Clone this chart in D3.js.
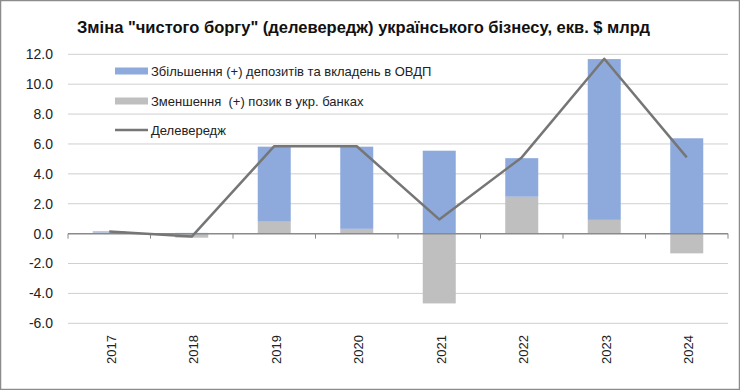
<!DOCTYPE html>
<html>
<head>
<meta charset="utf-8">
<script src="https://cdn.jsdelivr.net/npm/d3@7"></script>
<style>
  body { margin: 0; background: #fff; }
  svg { display: block; font-family: "Liberation Sans", Arial, sans-serif; }
</style>
</head>
<body>
<div id="chart"></div>
<script>
var years = ["2017", "2018", "2019", "2020", "2021", "2022", "2023", "2024"];
var deposits = [0.07, 0.05, 5.02, 5.5, 5.55, 2.58, 10.76, 6.38];
var loans = [0.08, -0.27, 0.8, 0.32, -4.67, 2.47, 0.92, -1.32];
var delev = [0.15, -0.2, 5.85, 5.85, 0.95, 5.1, 11.7, 5.1];
var yTicks = [12, 10, 8, 6, 4, 2, 0, -2, -4, -6];
var names = ["Збільшення (+) депозитів та вкладень в ОВДП", "Зменшення  (+) позик в укр. банках", "Делевередж"];
var title = "Зміна \"чистого боргу\" (делевередж) українського бізнесу, екв. $ млрд";

function init() {
    var w = 740, h = 390;
    var left = 68, right = 728, top = 54.3, bottom = 323.3;

    var svg = d3.select("#chart").append("svg")
        .attr("width", w)
        .attr("height", h);

    // frame
    svg.append("rect")
        .attr("x", 0.5).attr("y", 0.5)
        .attr("width", w - 1).attr("height", h - 1)
        .attr("fill", "#fff")
        .attr("stroke", "#8c8c8c")
        .attr("stroke-width", 1.5);

    var x = d3.scaleBand().domain(years).range([left, right]).paddingInner(0.6).paddingOuter(0.3);
    var xc = d3.scalePoint().domain(years).range([left, right]).padding(0.5);
    var y = d3.scaleLinear().domain([-6, 12]).range([bottom, top]);

    // gridlines
    svg.append("g").selectAll("line")
        .data(yTicks.filter(function(d) { return d !== 0; }))
        .enter().append("line")
        .attr("x1", left).attr("x2", right)
        .attr("y1", function(d) { return y(d); })
        .attr("y2", function(d) { return y(d); })
        .attr("stroke", "#cfcfcf")
        .attr("stroke-width", 1);

    // y labels
    svg.append("g").selectAll("text")
        .data(yTicks)
        .enter().append("text")
        .attr("x", 53)
        .attr("y", function(d) { return y(d); })
        .attr("dy", "0.35em")
        .attr("text-anchor", "end")
        .attr("font-size", 14)
        .attr("fill", "#222")
        .text(function(d) { return d.toFixed(1); });

    // stacked bars
    var rows = years.map(function(yr, i) {
        return { year: yr, loans: loans[i], deposits: deposits[i] };
    });
    var stack = d3.stack().keys(["loans", "deposits"]).offset(d3.stackOffsetDiverging);
    var colors = { loans: "#bfbfbf", deposits: "#8eaadc" };

    svg.append("g").selectAll("g")
        .data(stack(rows))
        .enter().append("g")
        .attr("fill", function(d) { return colors[d.key]; })
        .selectAll("rect")
        .data(function(d) { return d; })
        .enter().append("rect")
        .attr("x", function(d) { return x(d.data.year); })
        .attr("width", x.bandwidth())
        .attr("y", function(d) { return y(Math.max(d[0], d[1])); })
        .attr("height", function(d) { return Math.abs(y(d[0]) - y(d[1])); });

    // zero axis with ticks between categories
    svg.append("line")
        .attr("x1", left).attr("x2", right)
        .attr("y1", y(0)).attr("y2", y(0))
        .attr("stroke", "#8a8a8a")
        .attr("stroke-width", 1.5);
    var step = (right - left) / years.length;
    svg.append("g").selectAll("line")
        .data(d3.range(years.length + 1))
        .enter().append("line")
        .attr("x1", function(i) { return left + i * step; })
        .attr("x2", function(i) { return left + i * step; })
        .attr("y1", y(0)).attr("y2", y(0) + 5)
        .attr("stroke", "#8a8a8a")
        .attr("stroke-width", 1);

    // x labels
    svg.append("g").selectAll("text")
        .data(years)
        .enter().append("text")
        .attr("transform", function(d) { return "translate(" + (xc(d) + 2) + ",335) rotate(-90)"; })
        .attr("text-anchor", "end")
        .attr("dy", "0.35em")
        .attr("font-size", 13)
        .attr("fill", "#222")
        .text(function(d) { return d; });

    // line
    var line = d3.line()
        .x(function(d, i) { return xc(years[i]); })
        .y(function(d) { return y(d); });
    svg.append("path")
        .datum(delev)
        .attr("d", line)
        .attr("fill", "none")
        .attr("stroke", "#767676")
        .attr("stroke-width", 2.5)
        .attr("stroke-linejoin", "round");

    // title
    svg.append("text")
        .attr("x", 77).attr("y", 27)
        .attr("dy", "0.35em")
        .attr("font-size", 17)
        .attr("font-weight", "bold")
        .attr("fill", "#111")
        .attr("textLength", 573)
        .attr("lengthAdjust", "spacingAndGlyphs")
        .text(title);

    // legend
    var legY = [71, 101, 130];
    var leg = svg.append("g");
    leg.append("rect").attr("x", 115).attr("y", legY[0] - 3.5).attr("width", 33).attr("height", 7).attr("fill", colors.deposits);
    leg.append("rect").attr("x", 115).attr("y", legY[1] - 3.5).attr("width", 33).attr("height", 7).attr("fill", colors.loans);
    leg.append("line").attr("x1", 115).attr("x2", 148).attr("y1", legY[2]).attr("y2", legY[2])
        .attr("stroke", "#767676").attr("stroke-width", 2.5);
    leg.selectAll("text")
        .data(names)
        .enter().append("text")
        .attr("x", 151)
        .attr("y", function(d, i) { return legY[i]; })
        .attr("dy", "0.35em")
        .attr("font-size", 13)
        .attr("fill", "#222")
        .style("white-space", "pre")
        .text(function(d) { return d; });
}
window.onload = init;
</script>
</body>
</html>
